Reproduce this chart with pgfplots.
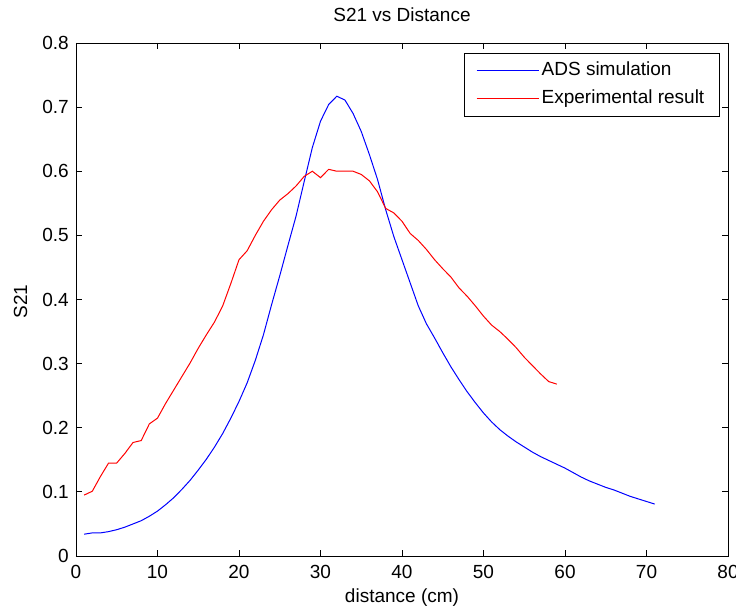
\documentclass[border=0pt]{standalone}
\usepackage{fontspec}
\setmainfont{Liberation Sans}
\usepackage{pgfplots}
\pgfplotsset{compat=1.18}
\newcommand{\mf}{\fontsize{19bp}{22bp}\selectfont}
\begin{document}
\begin{tikzpicture}
\begin{axis}[
  scale only axis,
  width=652bp, height=513bp,
  xmin=0, xmax=80, ymin=0, ymax=0.8,
  xtick={0,10,...,80},
  ytick={0,0.1,0.2,0.3,0.4,0.5,0.6,0.7,0.8},
  /pgf/number format/assume math mode=true,
  yticklabel style={/pgf/number format/fixed, /pgf/number format/precision=1, font=\mf, anchor=east, inner sep=0pt, xshift=-7bp},
  xticklabel style={font=\mf, anchor=base, inner sep=0pt, yshift=-23bp},
  tick align=inside,
  tick pos=both,
  major tick length=6bp,
  every tick/.style={black, line width=0.75bp},
  axis line style={black, line width=0.8bp},
  title={S21 vs Distance},
  title style={font=\mf, at={(axis description cs:0.5,1)}, anchor=base, yshift=16bp, inner sep=0pt},
  xlabel={distance (cm)},
  xlabel style={font=\mf, at={(axis description cs:0.5,0)}, anchor=base, yshift=-46.5bp, inner sep=0pt},
  ylabel={S21},
  ylabel style={font=\mf, at={(axis description cs:0,0.5)}, anchor=center, yshift=55.5bp, xshift=-2bp, inner sep=0pt},
  legend style={font=\mf, at={(axis description cs:1,1)}, anchor=north east, xshift=-9bp, yshift=-10bp,
    inner xsep=12bp, inner ysep=3.5bp,
    nodes={inner ysep=5bp, inner xsep=2.5bp, text height=14bp, text depth=4bp},
    cells={anchor=west}},
  legend cell align=left,
  legend image code/.code={\draw[#1] (0bp,0bp) -- (62bp,0bp);},
]
\addplot[color=blue, line width=1bp] coordinates {
(1,0.034) (2,0.036) (3,0.036) (4,0.038) (5,0.041) (6,0.045) (7,0.050) (8,0.055) (9,0.062) (10,0.070)
(11,0.080) (12,0.091) (13,0.104) (14,0.118) (15,0.134) (16,0.151) (17,0.170) (18,0.191) (19,0.215) (20,0.241)
(21,0.270) (22,0.305) (23,0.345) (24,0.392) (25,0.437) (26,0.484) (27,0.530) (28,0.584) (29,0.637) (30,0.678)
(31,0.704) (32,0.717) (33,0.711) (34,0.690) (35,0.662) (36,0.626) (37,0.587) (38,0.540) (39,0.498) (40,0.462)
(41,0.426) (42,0.390) (43,0.362) (44,0.340) (45,0.317) (46,0.295) (47,0.275) (48,0.256) (49,0.239) (50,0.223)
(51,0.209) (52,0.197) (53,0.187) (54,0.178) (55,0.170) (56,0.162) (57,0.155) (58,0.149) (59,0.143) (60,0.137)
(61,0.130) (62,0.123) (63,0.117) (64,0.112) (65,0.107) (66,0.103) (67,0.098) (68,0.093) (69,0.089) (70,0.085)
(71,0.081)
};
\addlegendentry{ADS simulation}
\addplot[color=red, line width=1bp] coordinates {
(1,0.095) (2,0.101) (3,0.124) (4,0.145) (5,0.145) (6,0.160) (7,0.177) (8,0.180) (9,0.206) (10,0.215)
(11,0.238) (12,0.259) (13,0.280) (14,0.301) (15,0.324) (16,0.345) (17,0.365) (18,0.390) (19,0.425) (20,0.462)
(21,0.476) (22,0.500) (23,0.522) (24,0.540) (25,0.555) (26,0.565) (27,0.577) (28,0.592) (29,0.600) (30,0.590)
(31,0.603) (32,0.600) (33,0.600) (34,0.600) (35,0.595) (36,0.585) (37,0.568) (38,0.542) (39,0.535) (40,0.522)
(41,0.503) (42,0.492) (43,0.478) (44,0.462) (45,0.448) (46,0.435) (47,0.418) (48,0.405) (49,0.390) (50,0.374)
(51,0.360) (52,0.350) (53,0.338) (54,0.325) (55,0.310) (56,0.297) (57,0.284) (58,0.272) (59,0.268)
};
\addlegendentry{Experimental result}
\end{axis}
\pgfresetboundingbox
\path ([shift={(-76bp,-51bp)}]current axis.south west) rectangle ([shift={(8bp,43bp)}]current axis.north east);
\end{tikzpicture}
\end{document}
